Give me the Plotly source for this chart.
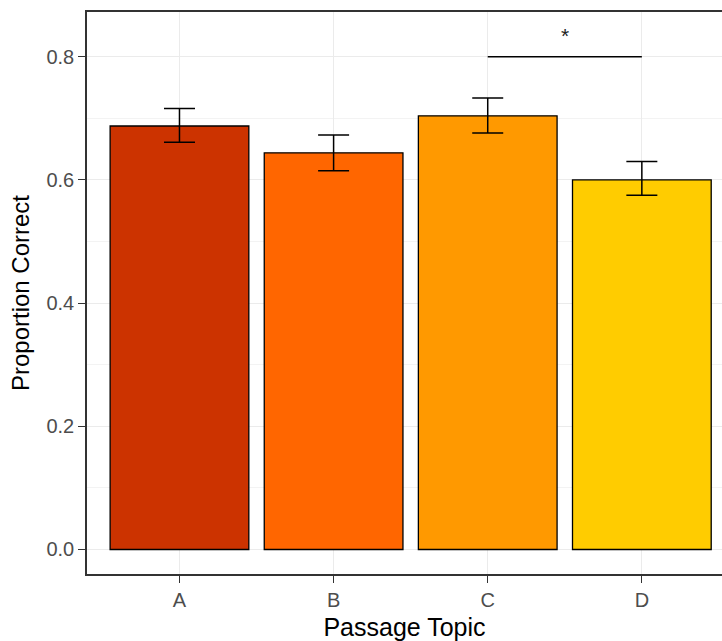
import plotly.graph_objects as go

topics = ["A", "B", "C", "D"]
prop_correct = [0.6875, 0.644, 0.704, 0.600]
err_upper = [0.716, 0.673, 0.733, 0.630]
err_lower = [0.661, 0.615, 0.676, 0.575]
bar_colors = ["#CC3300", "#FF6600", "#FF9900", "#FFCC00"]
sig_pair = ["C", "D"]
sig_y = 0.8
sig_label = "*"
sig_label_y = 0.834
y_ticks = [0.0, 0.2, 0.4, 0.6, 0.8]

plus = [u - m for u, m in zip(err_upper, prop_correct)]
minus = [m - l for m, l in zip(prop_correct, err_lower)]

fig = go.Figure()
fig.add_trace(go.Bar(
    x=topics, y=prop_correct, width=0.9,
    marker=dict(color=bar_colors, line=dict(color="black", width=1.3)),
    error_y=dict(type="data", array=plus, arrayminus=minus, color="black",
                 thickness=1.5, width=15.5),
    showlegend=False,
))

fig.add_shape(type="line", xref="x", yref="y",
              x0=sig_pair[0], x1=sig_pair[1], y0=sig_y, y1=sig_y,
              line=dict(color="black", width=1.5))
fig.add_annotation(x=2.5, y=sig_label_y, xref="x", yref="y", text=sig_label,
                   showarrow=False, font=dict(size=21, color="#222222",
                                              family="Liberation Sans"))

fig.update_layout(
    width=722, height=641,
    margin=dict(l=87, r=0, t=12, b=67),
    paper_bgcolor="white", plot_bgcolor="white",
    font=dict(family="Liberation Sans", color="black"),
    bargap=0.1,
)
fig.update_xaxes(
    type="category", range=[-0.6, 3.52],
    showline=True, linecolor="#333333", linewidth=1.5, mirror=True,
    showgrid=True, gridcolor="#ebebeb", gridwidth=1.1,
    ticks="outside", ticklen=7, tickcolor="#333333", tickwidth=1.2,
    tickfont=dict(size=20, color="#4d4d4d"),
    title=dict(text="Passage Topic", font=dict(size=25, color="black"), standoff=11),
    zeroline=False,
)
fig.update_yaxes(
    range=[-0.0398, 0.8726],
    tickvals=y_ticks, ticktext=[f"{v:.1f}" for v in y_ticks],
    showline=True, linecolor="#333333", linewidth=1.5, mirror=False,
    showgrid=True, gridcolor="#ebebeb", gridwidth=1.1,
    minor=dict(dtick=0.1, tick0=0.1, showgrid=True, gridcolor="#f3f3f3", gridwidth=0.6, ticks=""),
    ticks="outside", ticklen=7, tickcolor="#333333", tickwidth=1.2,
    tickfont=dict(size=20, color="#4d4d4d"),
    title=dict(text="Proportion Correct", font=dict(size=24, color="black"), standoff=10),
    zeroline=False,
)

fig.write_html("out.html")
